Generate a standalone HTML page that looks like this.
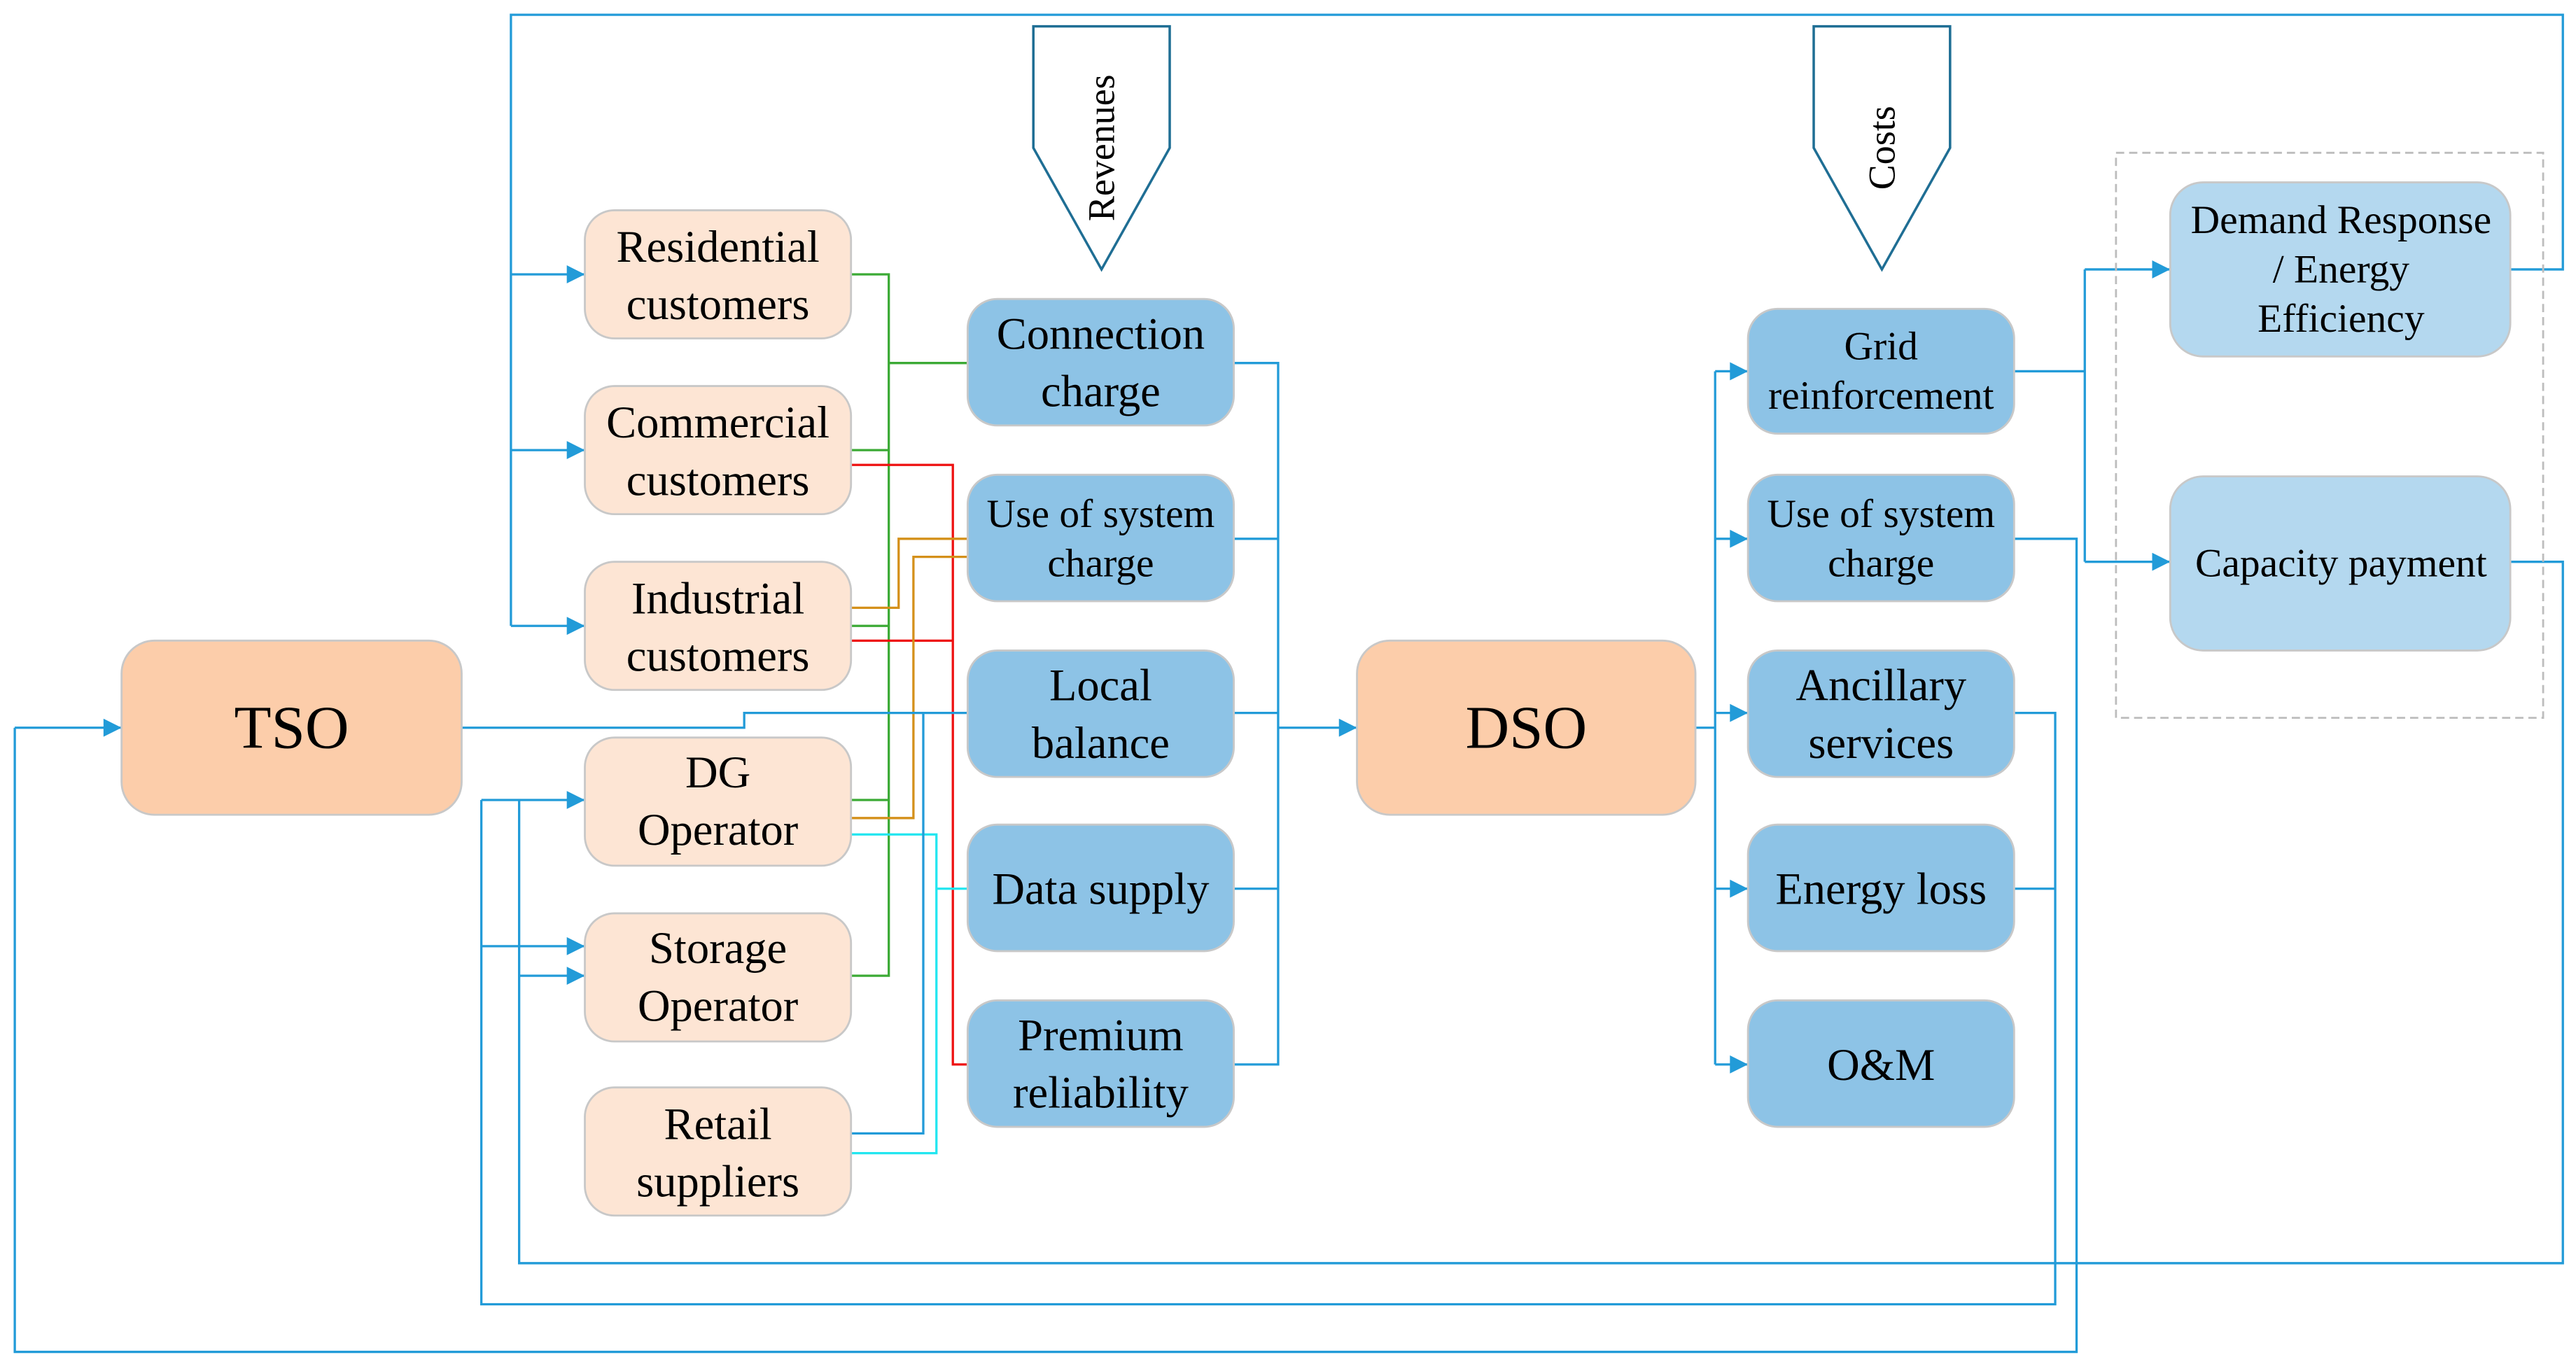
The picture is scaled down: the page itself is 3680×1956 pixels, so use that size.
<!DOCTYPE html>
<html><head><meta charset="utf-8"><style>
html,body{margin:0;padding:0;background:#fff;}
svg{display:block;}
text{font-family:"Liberation Serif",serif;fill:#000;}
</style></head><body>
<svg width="3680" height="1956" viewBox="0 0 1568 833.4" xmlns="http://www.w3.org/2000/svg">
<defs>
<marker id="a" viewBox="0 0 12 12" refX="12" refY="6" markerWidth="12" markerHeight="11" markerUnits="userSpaceOnUse" orient="auto">
<path d="M0,0 L12,6 L0,12 z" fill="#229BD8"/></marker>
</defs>
<g fill="none" stroke-width="1.4">
<!-- green -->
<g stroke="#3BAA35">
<polyline points="518,167 541,167 541,594 518,594"/>
<line x1="518" y1="274" x2="541" y2="274"/>
<line x1="518" y1="381" x2="541" y2="381"/>
<line x1="518" y1="487" x2="541" y2="487"/>
<line x1="541" y1="221" x2="589" y2="221"/>
</g>
<!-- red -->
<g stroke="#EE1111">
<polyline points="518,283 580,283 580,648 589,648"/>
<line x1="518" y1="390" x2="580" y2="390"/>
</g>
<!-- orange -->
<g stroke="#D4901A">
<polyline points="518,370 547,370 547,328 589,328"/>
<polyline points="518,498 556,498 556,339 589,339"/>
</g>
<!-- cyan -->
<g stroke="#22E6F0">
<polyline points="518,702 570,702 570,508 518,508"/>
<line x1="570" y1="541" x2="589" y2="541"/>
</g>
<!-- blue -->
<g stroke="#229BD8">
<polyline points="1528,164 1560,164 1560,9 311,9 311,381"/>
<line x1="311" y1="167" x2="356" y2="167" marker-end="url(#a)"/>
<line x1="311" y1="274" x2="356" y2="274" marker-end="url(#a)"/>
<line x1="311" y1="381" x2="356" y2="381" marker-end="url(#a)"/>
<polyline points="281,443 453,443 453,434 589,434"/>
<polyline points="518,690 562,690 562,434"/>
<polyline points="751,221 778,221 778,648 751,648"/>
<line x1="751" y1="328" x2="778" y2="328"/>
<line x1="751" y1="434" x2="778" y2="434"/>
<line x1="751" y1="541" x2="778" y2="541"/>
<line x1="778" y1="443" x2="826" y2="443" marker-end="url(#a)"/>
<polyline points="1032,443 1044,443"/>
<line x1="1044" y1="226" x2="1044" y2="648"/>
<line x1="1044" y1="226" x2="1064" y2="226" marker-end="url(#a)"/>
<line x1="1044" y1="328" x2="1064" y2="328" marker-end="url(#a)"/>
<line x1="1044" y1="434" x2="1064" y2="434" marker-end="url(#a)"/>
<line x1="1044" y1="541" x2="1064" y2="541" marker-end="url(#a)"/>
<line x1="1044" y1="648" x2="1064" y2="648" marker-end="url(#a)"/>
<polyline points="1226,226 1269,226"/>
<line x1="1269" y1="164" x2="1269" y2="342"/>
<line x1="1269" y1="164" x2="1321" y2="164" marker-end="url(#a)"/>
<line x1="1269" y1="342" x2="1321" y2="342" marker-end="url(#a)"/>
<polyline points="1528,342 1560,342 1560,769 316,769 316,487"/>
<line x1="316" y1="594" x2="356" y2="594" marker-end="url(#a)"/>
<polyline points="1226,434 1251,434 1251,794 293,794 293,487"/>
<line x1="1226" y1="541" x2="1251" y2="541"/>
<line x1="293" y1="487" x2="356" y2="487" marker-end="url(#a)"/>
<line x1="293" y1="576" x2="356" y2="576" marker-end="url(#a)"/>
<polyline points="1226,328 1264,328 1264,823 9,823 9,443"/>
<line x1="9" y1="443" x2="74" y2="443" marker-end="url(#a)"/>
</g>
</g>
<!-- dashed group -->
<rect x="1288" y="93" width="260" height="344" fill="none" stroke="#BDBDBD" stroke-width="1.2" stroke-dasharray="5,3"/>
<!-- pentagons -->
<path d="M629,16 L712,16 L712,90 L670.5,164 L629,90 Z" fill="#fff" stroke="#1F6E94" stroke-width="1.5"/>
<path d="M1104,16 L1187,16 L1187,90 L1145.5,164 L1104,90 Z" fill="#fff" stroke="#1F6E94" stroke-width="1.5"/>
<text transform="translate(670.5,90) rotate(-90)" text-anchor="middle" dominant-baseline="central" font-size="23">Revenues</text>
<text transform="translate(1145.5,90) rotate(-90)" text-anchor="middle" dominant-baseline="central" font-size="23">Costs</text>
<!-- boxes -->
<g stroke="#C8C8C8" stroke-width="1.2">
<rect x="74" y="390" width="207" height="106" rx="20" fill="#FCCDAA"/>
<rect x="826" y="390" width="206" height="106" rx="20" fill="#FCCDAA"/>
<g fill="#FDE5D4">
<rect x="356" y="128" width="162" height="78" rx="18"/>
<rect x="356" y="235" width="162" height="78" rx="18"/>
<rect x="356" y="342" width="162" height="78" rx="18"/>
<rect x="356" y="449" width="162" height="78" rx="18"/>
<rect x="356" y="556" width="162" height="78" rx="18"/>
<rect x="356" y="662" width="162" height="78" rx="18"/>
</g>
<g fill="#8DC3E6">
<rect x="589" y="182" width="162" height="77" rx="18"/>
<rect x="589" y="289" width="162" height="77" rx="18"/>
<rect x="589" y="396" width="162" height="77" rx="18"/>
<rect x="589" y="502" width="162" height="77" rx="18"/>
<rect x="589" y="609" width="162" height="77" rx="18"/>
<rect x="1064" y="188" width="162" height="76" rx="18"/>
<rect x="1064" y="289" width="162" height="77" rx="18"/>
<rect x="1064" y="396" width="162" height="77" rx="18"/>
<rect x="1064" y="502" width="162" height="77" rx="18"/>
<rect x="1064" y="609" width="162" height="77" rx="18"/>
</g>
<g fill="#B4D8EF">
<rect x="1321" y="111" width="207" height="106" rx="20"/>
<rect x="1321" y="290" width="207" height="106" rx="20"/>
</g>
</g>
<!-- labels -->
<g text-anchor="middle" dominant-baseline="central">
<text x="177.5" y="443" font-size="37">TSO</text>
<text x="929" y="443" font-size="37">DSO</text>
<g font-size="27.5">
<text x="437" y="150">Residential</text><text x="437" y="185">customers</text>
<text x="437" y="257">Commercial</text><text x="437" y="292">customers</text>
<text x="437" y="364">Industrial</text><text x="437" y="399">customers</text>
<text x="437" y="470">DG</text><text x="437" y="505">Operator</text>
<text x="437" y="577">Storage</text><text x="437" y="612">Operator</text>
<text x="437" y="684">Retail</text><text x="437" y="719">suppliers</text>
<text x="670" y="203">Connection</text><text x="670" y="238">charge</text>
<text x="670" y="417">Local</text><text x="670" y="452">balance</text>
<text x="670" y="541">Data supply</text>
<text x="670" y="630">Premium</text><text x="670" y="665">reliability</text>
<text x="1145" y="417">Ancillary</text><text x="1145" y="452">services</text>
<text x="1145" y="541">Energy loss</text>
<text x="1145" y="648">O&amp;M</text>
</g>
<g font-size="24.5">
<text x="670" y="313">Use of system</text><text x="670" y="343">charge</text>
<text x="1145" y="211">Grid</text><text x="1145" y="241">reinforcement</text>
<text x="1145" y="313">Use of system</text><text x="1145" y="343">charge</text>
<text x="1425" y="134">Demand Response</text><text x="1425" y="164">/ Energy</text><text x="1425" y="194">Efficiency</text>
<text x="1425" y="343">Capacity payment</text>
</g>
</g>
</svg>
</body></html>
